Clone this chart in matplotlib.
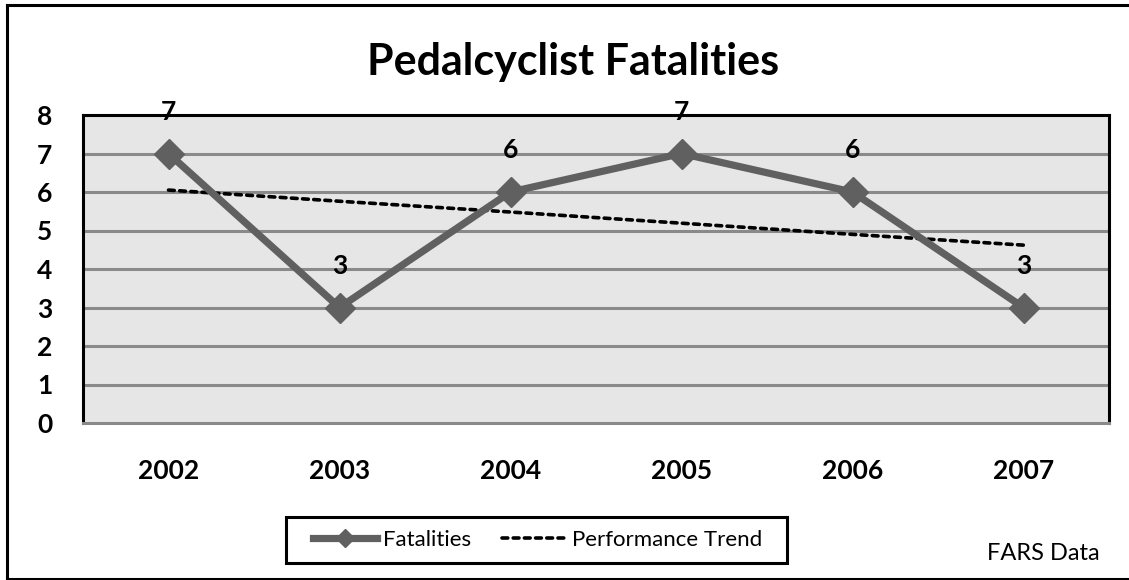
import matplotlib.pyplot as plt
from matplotlib.lines import Line2D
from matplotlib.patches import Rectangle

years = ["2002", "2003", "2004", "2005", "2006", "2007"]
fatalities = [7, 3, 6, 7, 6, 3]
trend = [6.05, 5.76, 5.48, 5.19, 4.90, 4.62]
y_ticks = [0, 1, 2, 3, 4, 5, 6, 7, 8]

W, H = 1129, 580
plt.rcParams["font.family"] = ["Lato", "DejaVu Sans"]

fig = plt.figure(figsize=(W / 100, H / 100), dpi=100)

# outer frame (left, top, bottom; right edge runs off the picture)
fig.add_artist(Line2D([7 / W, 7 / W], [1 - 5 / H, 1 - 579 / H], color="black", lw=2.2))
fig.add_artist(Line2D([7 / W, 1], [1 - 5 / H, 1 - 5 / H], color="black", lw=2.2))
fig.add_artist(Line2D([7 / W, 1], [1 - 579 / H, 1 - 579 / H], color="black", lw=2.2))

left, right, top, bottom = 83, 1109, 115, 423
ax = fig.add_axes([left / W, 1 - bottom / H, (right - left) / W, (bottom - top) / H])
ax.set_facecolor("#e6e6e6")

x = list(range(len(years)))
ax.set_xlim(-0.5, len(years) - 0.5)
ax.set_ylim(0, 8)

for v in y_ticks[1:-1]:
    ax.axhline(v, color="#8a8a8a", lw=2.2, zorder=1)

ax.plot(x, trend, color="black", lw=2.6, ls=(0, (1.6, 1.5)), zorder=2,
        dash_capstyle="round", label="Performance Trend")
ax.plot(x, fatalities, color="#606060", lw=5.2, marker="D", markersize=15,
        zorder=3, label="Fatalities")

for xi, v in zip(x, fatalities):
    ax.text(xi, v + 1.08, str(v), ha="center", va="center", fontsize=19,
            fontweight="bold", zorder=4)

for side in ["left", "top", "right"]:
    ax.spines[side].set_color("black")
    ax.spines[side].set_linewidth(2.2)
ax.spines["bottom"].set_color("#8a8a8a")
ax.spines["bottom"].set_linewidth(2.2)

ax.set_xticks(x)
ax.set_xticklabels(years, fontsize=19, fontweight="bold")
ax.set_yticks(y_ticks)
ax.set_yticklabels([str(v) for v in y_ticks], fontsize=19, fontweight="bold")
ax.tick_params(axis="both", length=0)
ax.tick_params(axis="x", pad=26)
ax.tick_params(axis="y", pad=22)

fig.text(573 / W, 1 - 62 / H, "Pedalcyclist Fatalities", ha="center",
         va="center", fontsize=31, fontweight="bold")

# legend box drawn separately so its padding matches the original
fig.add_artist(Rectangle((286 / W, 1 - 563 / H), (787 - 286) / W, (563 - 517) / H,
                         transform=fig.transFigure, fill=False,
                         edgecolor="black", lw=2.2))
handles, labels = ax.get_legend_handles_labels()
fig.legend(handles[::-1], labels[::-1], loc="center",
           bbox_to_anchor=(538 / W, 1 - 540 / H), ncol=2, fontsize=16,
           frameon=False, handlelength=2.85, columnspacing=1.4,
           handletextpad=0.3, markerscale=0.6)

fig.text(1043 / W, 1 - 553 / H, "FARS Data", ha="center", va="center", fontsize=17)

fig.savefig("out.png", dpi=100)
